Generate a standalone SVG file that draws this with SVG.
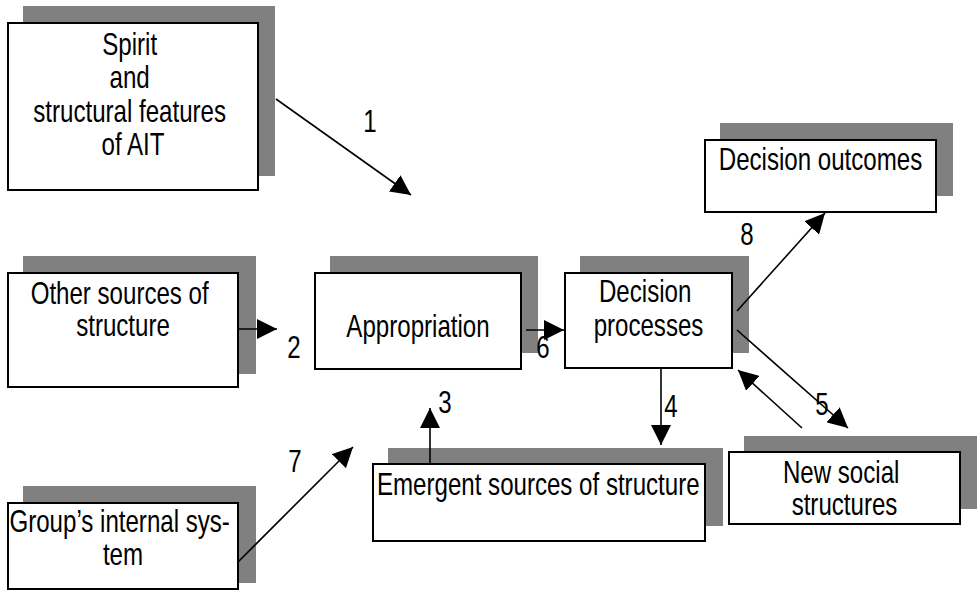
<svg xmlns="http://www.w3.org/2000/svg" width="978" height="599" viewBox="0 0 978 599">
  <style>
    .shadow { fill: #808080; stroke: none; }
    .box { fill: #ffffff; stroke: #000000; stroke-width: 2; }
    .t { font-family: "Liberation Sans", Arial, sans-serif; font-size: 30.5px; fill: #000000; }
    .c { text-anchor: middle; }
    .conn line { stroke: #000000; stroke-width: 1.6; marker-end: url(#head); }
  </style>
  <defs>
    <marker id="head" viewBox="0 0 20 20" refX="20" refY="10" markerWidth="20" markerHeight="20" markerUnits="userSpaceOnUse" orient="auto">
      <path d="M0,0 L20,10 L0,20 Z" fill="#000000"/>
    </marker>
  </defs>

  <rect width="978" height="599" fill="#ffffff"/>

  <!-- Nodes: grey offset shadow, white framed box, condensed label -->
  <g id="spirit">
    <rect class="shadow" x="23" y="6" width="252" height="170"/>
    <rect class="box" x="8" y="23" width="250" height="167"/>
    <text class="t c" transform="translate(133,55) scale(0.79 1)">
      <tspan x="0" y="0">Spirit</tspan>
      <tspan x="0" y="33.5">and</tspan>
      <tspan x="0" y="67">structural features</tspan>
      <tspan x="0" y="100.5">of AIT</tspan>
    </text>
  </g>

  <g id="other-sources">
    <rect class="shadow" x="23" y="256" width="233" height="118"/>
    <rect class="box" x="8" y="273" width="230" height="114"/>
    <text class="t c" transform="translate(123,304) scale(0.79 1)">
      <tspan x="0" y="0">Other sources of</tspan>
      <tspan x="0" y="32.5">structure</tspan>
    </text>
  </g>

  <g id="group-system">
    <rect class="shadow" x="23" y="486" width="233" height="97"/>
    <rect class="box" x="8" y="503" width="230" height="86"/>
    <text class="t c" transform="translate(123,532) scale(0.79 1)">
      <tspan x="0" y="0">Group’s internal sys-</tspan>
      <tspan x="0" y="33">tem</tspan>
    </text>
  </g>

  <g id="appropriation">
    <rect class="shadow" x="330" y="256" width="208" height="97"/>
    <rect class="box" x="315" y="273" width="206" height="96"/>
    <text class="t c" transform="translate(418,337) scale(0.79 1)">Appropriation</text>
  </g>

  <g id="decision-processes">
    <rect class="shadow" x="580" y="256" width="169" height="97"/>
    <rect class="box" x="565" y="273" width="167" height="95"/>
    <text class="t c" transform="translate(648.5,302) scale(0.79 1)">
      <tspan x="0" y="0">Decision</tspan>
      <tspan x="0" y="34">processes</tspan>
    </text>
  </g>

  <g id="decision-outcomes">
    <rect class="shadow" x="720" y="123" width="233" height="73"/>
    <rect class="box" x="705" y="140" width="231" height="72"/>
    <text class="t c" transform="translate(820.5,170) scale(0.79 1)">Decision outcomes</text>
  </g>

  <g id="emergent-sources">
    <rect class="shadow" x="388" y="448" width="335" height="78"/>
    <rect class="box" x="373" y="464" width="332" height="77"/>
    <text class="t" transform="translate(377,495) scale(0.79 1)">Emergent sources of structure</text>
  </g>

  <g id="new-social">
    <rect class="shadow" x="744" y="436" width="233" height="73"/>
    <rect class="box" x="729" y="452" width="231" height="72"/>
    <text class="t c" transform="translate(844.5,483) scale(0.79 1)">
      <tspan x="0" y="0">New social</tspan>
      <tspan x="0" y="32">structures</tspan>
    </text>
  </g>

  <!-- Connectors -->
  <g id="connectors" class="conn">
    <line x1="276" y1="99" x2="411" y2="195"/>
    <line x1="238" y1="329" x2="277" y2="329"/>
    <line x1="430" y1="464" x2="430" y2="408"/>
    <line x1="661" y1="368" x2="661" y2="445"/>
    <line x1="737" y1="330" x2="848" y2="428"/>
    <line x1="802" y1="428" x2="738" y2="370"/>
    <line x1="526" y1="330" x2="564" y2="330"/>
    <line x1="238" y1="562" x2="353" y2="447"/>
    <line x1="737" y1="311" x2="825" y2="213"/>
  </g>

  <!-- Connector numbers -->
  <g id="labels" class="t c">
    <text transform="translate(370,132) scale(0.79 1)">1</text>
    <text transform="translate(294,358) scale(0.79 1)">2</text>
    <text transform="translate(445,413) scale(0.79 1)">3</text>
    <text transform="translate(671,417) scale(0.79 1)">4</text>
    <text transform="translate(822,415) scale(0.79 1)">5</text>
    <text transform="translate(543,358) scale(0.79 1)">6</text>
    <text transform="translate(295,472) scale(0.79 1)">7</text>
    <text transform="translate(747,245) scale(0.79 1)">8</text>
  </g>
</svg>
